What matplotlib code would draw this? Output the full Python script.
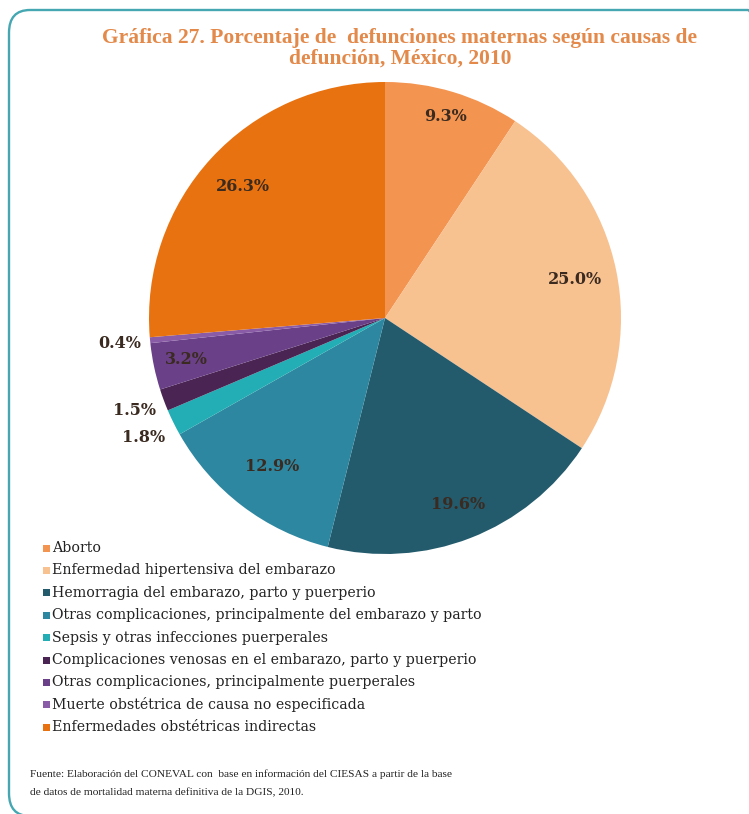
import matplotlib
matplotlib.use("Agg")
import matplotlib.pyplot as plt
from matplotlib.patches import FancyBboxPatch
import numpy as np

categories = [
    "Aborto",
    "Enfermedad hipertensiva del embarazo",
    "Hemorragia del embarazo, parto y puerperio",
    "Otras complicaciones, principalmente del embarazo y parto",
    "Sepsis y otras infecciones puerperales",
    "Complicaciones venosas en el embarazo, parto y puerperio",
    "Otras complicaciones, principalmente puerperales",
    "Muerte obstétrica de causa no especificada",
    "Enfermedades obstétricas indirectas",
]
values = [9.3, 25.0, 19.6, 12.9, 1.8, 1.5, 3.2, 0.4, 26.3]
labels_txt = ["9.3%", "25.0%", "19.6%", "12.9%", "1.8%", "1.5%", "3.2%", "0.4%", "26.3%"]
colors = ["#F39450", "#F8C190", "#235A6C", "#2E87A0", "#22AEB4",
          "#4A2452", "#6A4088", "#8A5CA8", "#E8720F"]
label_r = [0.89, 0.82, 0.85, 0.79, 1.14, 1.13, 0.86, 1.13, 0.82]

W, H = 749, 814
fig = plt.figure(figsize=(W / 100, H / 100), dpi=100)
fig.patch.set_facecolor("white")

# border (right and bottom edges fall just outside the picture, as in the reference)
border = FancyBboxPatch((9 / W, -2 / H), (760 / W), (806 / H),
                        boxstyle="round,pad=0,rounding_size=0.028",
                        transform=fig.transFigure, facecolor="none",
                        edgecolor="#45A7B1", linewidth=1.7, zorder=0)
fig.patches.append(border)

cx, cy, r = 385, 318, 236
ax = fig.add_axes([(cx - r) / W, (H - cy - r) / H, 2 * r / W, 2 * r / H])
wedges, _ = ax.pie(values, colors=colors, startangle=90, counterclock=False,
                   wedgeprops=dict(linewidth=0))
ax.set_aspect("equal")
ax.set_xlim(-1, 1)
ax.set_ylim(-1, 1)
ax.axis("off")

for w, t, rr in zip(wedges, labels_txt, label_r):
    ang = np.deg2rad((w.theta1 + w.theta2) / 2)
    ax.text(rr * np.cos(ang), rr * np.sin(ang), t, ha="center", va="center",
            fontsize=11.5, fontweight="bold", family="DejaVu Serif",
            color="#3A2A20")

title_kw = dict(ha="center", va="center", fontsize=15.5, fontweight="bold",
                family="Liberation Serif", color="#E3894A")
fig.text(400 / W, 1 - 38 / H,
         "Gráfica 27. Porcentaje de  defunciones maternas según causas de", **title_kw)
fig.text(400 / W, 1 - 59 / H, "defunción, México, 2010", **title_kw)

# legend
y0 = 548
dy = 22.4
for i, (c, name) in enumerate(zip(colors, categories)):
    y = 1 - (y0 + i * dy) / H
    fig.patches.append(plt.Rectangle((43 / W, y - 3.5 / H), 7 / W, 7 / H,
                                     transform=fig.transFigure, facecolor=c,
                                     edgecolor="none"))
    fig.text(52 / W, y, name, ha="left", va="center", fontsize=10.2,
             family="DejaVu Serif", color="#222222")

fig.text(30 / W, 1 - 774 / H,
         "Fuente: Elaboración del CONEVAL con  base en información del CIESAS a partir de la base",
         ha="left", va="center", fontsize=8.2, family="Liberation Serif", color="#222222")
fig.text(30 / W, 1 - 793 / H,
         "de datos de mortalidad materna definitiva de la DGIS, 2010.",
         ha="left", va="center", fontsize=8.2, family="Liberation Serif", color="#222222")

fig.savefig("out.png", dpi=100)
